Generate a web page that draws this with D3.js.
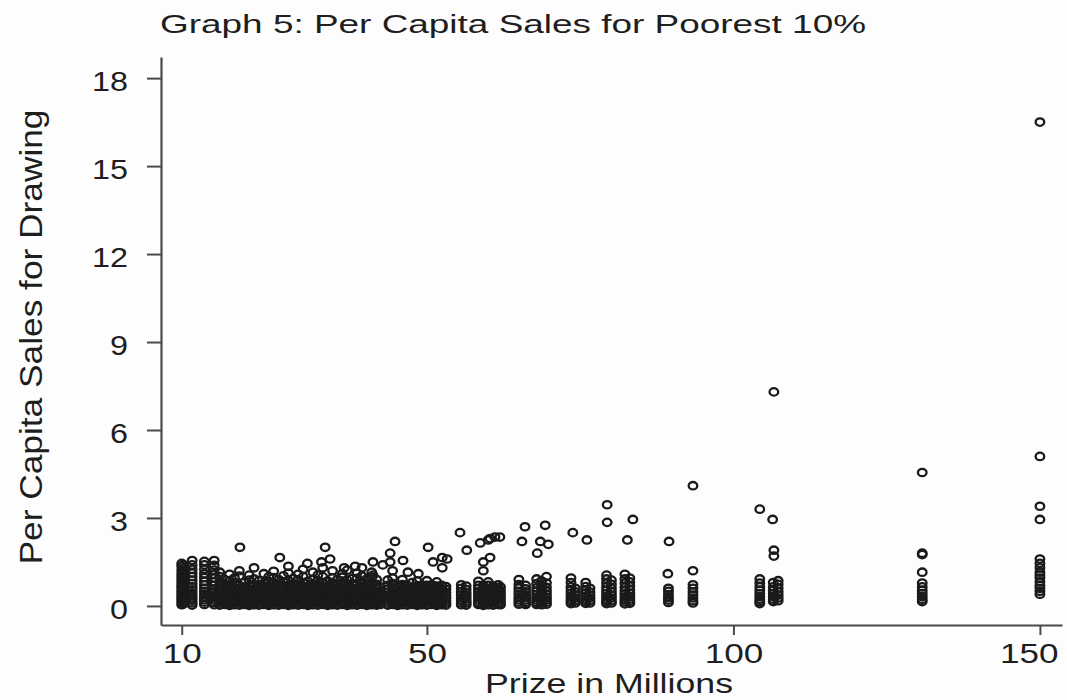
<!DOCTYPE html>
<html>
<head>
<meta charset="utf-8">
<script src="https://cdn.jsdelivr.net/npm/d3@7"></script>
<style>
  body { margin: 0; background: #fdfdfd; }
  text { font-family: "Liberation Sans", Arial, sans-serif; fill: #1e1e1e; }
</style>
</head>
<body>
<script>
// tick labels
var xTicks = [10, 50, 100, 150];
var yTicks = [0, 3, 6, 9, 12, 15, 18];

// prize levels (millions) that hold a stack of observations
var colPrize = [10.0, 10.3, 11.7, 13.7, 15.3,
  16.2, 17.0, 17.8, 18.6, 19.4, 20.2, 21.0, 21.8, 22.6, 23.4, 24.2, 25.0, 25.8, 26.6, 27.4,
  28.2, 29.0, 29.8, 30.6, 31.4, 32.2, 33.0, 33.8, 34.6, 35.4, 36.2, 37.0, 37.8, 38.6, 39.4,
  40.2, 41.0, 41.8, 42.4, 43.6, 44.4, 45.2, 46.0, 46.8, 47.6, 48.4, 49.2, 50.0, 50.8, 51.6,
  52.4, 53.1, 55.6, 56.4, 58.4, 59.2, 60.0, 60.8, 61.6, 62.0, 65.0, 66.1, 67.9, 68.7, 69.5,
  73.5, 74.2, 75.9, 76.6, 79.3, 80.1, 82.3, 83.1, 89.4, 93.4, 104.3, 106.5, 107.3, 130.8, 150.0];

// per capita sales of each stack (same order as colPrize)
var colSales = [
  [0.04,0.12,0.2,0.28,0.36,0.45,0.53,0.62,0.7,0.8,0.9,1.0,1.1,1.22,1.35,1.45],
  [0.07,0.16,0.24,0.33,0.41,0.5,0.58,0.67,0.76,0.85,0.95,1.05,1.16,1.28,1.4],
  [0.03,0.11,0.19,0.27,0.36,0.45,0.55,0.65,0.76,0.88,1.0,1.12,1.25,1.4,1.55],
  [0.05,0.13,0.21,0.3,0.4,0.5,0.6,0.72,0.84,0.97,1.1,1.25,1.4,1.52],
  [0.04,0.12,0.2,0.29,0.38,0.48,0.58,0.7,0.82,0.95,1.08,1.22,1.38,1.55],
  [0.03,0.1,0.18,0.26,0.35,0.44,0.55,0.68,0.82,1.0,1.15],
  [0.05,0.12,0.2,0.29,0.38,0.47,0.6,0.75,0.9],
  [0.02,0.09,0.16,0.24,0.33,0.42,0.52,0.66,0.86,1.08],
  [0.04,0.11,0.19,0.27,0.36,0.48,0.62,0.78,0.95],
  [0.03,0.1,0.17,0.25,0.34,0.43,0.56,0.7,1.02,1.2],
  [0.05,0.13,0.21,0.3,0.4,0.5,0.64,0.8],
  [0.02,0.08,0.15,0.23,0.31,0.41,0.53,0.69,0.88,1.05],
  [0.04,0.12,0.2,0.28,0.37,0.46,0.58,0.73,0.92,1.3],
  [0.03,0.1,0.18,0.26,0.35,0.45,0.57,0.71,0.86],
  [0.05,0.12,0.19,0.28,0.38,0.49,0.61,0.77,1.1],
  [0.02,0.09,0.17,0.25,0.33,0.42,0.54,0.67,0.83,1.0],
  [0.04,0.11,0.2,0.29,0.39,0.5,0.63,0.79,0.97,1.18],
  [0.03,0.1,0.17,0.26,0.36,0.47,0.6,0.74,0.9],
  [0.05,0.13,0.21,0.3,0.41,0.52,0.65,0.82,1.03],
  [0.02,0.09,0.16,0.24,0.33,0.43,0.55,0.7,0.87,1.12,1.35],
  [0.04,0.11,0.19,0.27,0.37,0.48,0.6,0.76,0.94],
  [0.03,0.1,0.18,0.26,0.35,0.45,0.57,0.72,0.89,1.08],
  [0.05,0.12,0.2,0.29,0.38,0.5,0.64,0.8,1.0,1.25],
  [0.02,0.08,0.15,0.23,0.32,0.42,0.54,0.68,0.84],
  [0.04,0.11,0.19,0.28,0.37,0.47,0.59,0.74,0.91,1.15],
  [0.03,0.1,0.17,0.25,0.34,0.44,0.56,0.7,0.86,1.05],
  [0.05,0.12,0.2,0.3,0.4,0.51,0.65,0.8,1.0,1.3],
  [0.02,0.09,0.16,0.24,0.33,0.43,0.55,0.69,0.85],
  [0.04,0.12,0.2,0.28,0.38,0.49,0.62,0.78,0.96,1.2],
  [0.03,0.1,0.18,0.27,0.36,0.46,0.58,0.73,0.9],
  [0.05,0.13,0.21,0.3,0.4,0.5,0.63,0.79,0.98,1.1],
  [0.02,0.09,0.17,0.25,0.34,0.44,0.56,0.71,0.88,1.22],
  [0.04,0.11,0.19,0.28,0.38,0.49,0.61,0.76,0.93],
  [0.03,0.1,0.18,0.26,0.36,0.47,0.6,0.75,0.94,1.12],
  [0.05,0.12,0.2,0.3,0.4,0.52,0.66,0.83,1.02,1.3],
  [0.02,0.09,0.16,0.25,0.35,0.46,0.59,0.74,0.92],
  [0.04,0.11,0.19,0.28,0.38,0.5,0.63,0.79,0.98,1.15],
  [0.03,0.1,0.18,0.27,0.37,0.48,0.6,0.74,0.9],
  [0.05,0.13,0.22,0.31,0.41,0.52,0.64],
  [0.03,0.1,0.18,0.27,0.36,0.46,0.57,0.7,0.88],
  [0.05,0.12,0.2,0.29,0.39,0.5,0.62,0.76,0.95,1.2],
  [0.02,0.09,0.17,0.26,0.35,0.45,0.56,0.68],
  [0.04,0.11,0.19,0.28,0.38,0.49,0.6,0.73,0.9],
  [0.03,0.1,0.18,0.27,0.37,0.47,0.58,0.7],
  [0.05,0.12,0.2,0.29,0.39,0.5,0.63,0.8],
  [0.02,0.09,0.17,0.26,0.36,0.46,0.57,0.69,0.85],
  [0.04,0.11,0.19,0.28,0.38,0.48,0.59,0.71],
  [0.03,0.1,0.18,0.27,0.36,0.46,0.57,0.7,0.86],
  [0.05,0.12,0.2,0.29,0.39,0.49,0.6,0.72],
  [0.02,0.09,0.17,0.26,0.35,0.45,0.56,0.68,0.82],
  [0.04,0.11,0.19,0.28,0.37,0.47,0.58,0.7],
  [0.03,0.1,0.18,0.27,0.36,0.46,0.57,0.66],
  [0.04,0.11,0.19,0.28,0.38,0.48,0.6,0.72],
  [0.03,0.1,0.17,0.26,0.35,0.45,0.56,0.68],
  [0.05,0.12,0.2,0.29,0.38,0.48,0.59,0.7,0.84],
  [0.02,0.09,0.17,0.26,0.36,0.46,0.57,0.69],
  [0.04,0.11,0.19,0.28,0.37,0.47,0.58,0.7,0.82],
  [0.03,0.1,0.18,0.27,0.36,0.46,0.57,0.68],
  [0.05,0.12,0.2,0.29,0.39,0.49,0.6,0.72],
  [0.04,0.13,0.22,0.32,0.42,0.53,0.65],
  [0.06,0.13,0.21,0.3,0.4,0.5,0.61,0.73,0.9],
  [0.05,0.12,0.2,0.29,0.38,0.48,0.58,0.7],
  [0.05,0.12,0.2,0.29,0.39,0.5,0.62,0.76,0.92],
  [0.04,0.11,0.19,0.28,0.37,0.47,0.58,0.7,0.85],
  [0.06,0.13,0.21,0.3,0.4,0.51,0.63,0.78,1.0],
  [0.08,0.15,0.23,0.32,0.42,0.53,0.65,0.8,0.95],
  [0.1,0.18,0.27,0.37,0.48,0.6],
  [0.09,0.16,0.24,0.33,0.43,0.54,0.66,0.8],
  [0.1,0.18,0.27,0.36,0.47,0.6],
  [0.08,0.15,0.23,0.32,0.42,0.53,0.65,0.78,0.92,1.05],
  [0.1,0.18,0.27,0.37,0.48,0.6,0.74,0.88],
  [0.07,0.14,0.22,0.31,0.41,0.52,0.64,0.78,0.92,1.08],
  [0.09,0.16,0.24,0.33,0.43,0.55,0.68,0.82,0.95],
  [0.12,0.2,0.29,0.39,0.5,0.6],
  [0.1,0.18,0.27,0.37,0.48,0.6,0.72],
  [0.08,0.15,0.23,0.32,0.42,0.53,0.65,0.78,0.92],
  [0.15,0.23,0.32,0.42,0.53,0.65,0.8],
  [0.18,0.27,0.37,0.48,0.6,0.74,0.86],
  [0.15,0.23,0.32,0.42,0.53,0.65,0.78],
  [0.4,0.5,0.6,0.7,0.82,0.95,1.05,1.15,1.3,1.45,1.6]
];

// isolated observations [prize, sales]
var scatterPoints = [
  [19.5,2.0],[26.0,1.65],[33.4,2.0],[34.2,1.6],[30.5,1.45],[32.8,1.5],[36.5,1.3],[38.3,1.35],
  [41.2,1.5],[41.2,1.05],[42.8,1.4],[44.0,1.8],[44.0,1.5],[44.8,2.2],[46.1,1.55],[46.9,1.15],
  [48.6,1.1],[50.2,2.0],[51.0,1.5],[52.5,1.65],[52.5,1.3],[53.3,1.6],[55.4,2.5],[56.5,1.9],
  [58.7,2.15],[60.0,2.25],[60.3,2.3],[61.1,2.35],[61.9,2.35],[60.3,1.65],[59.2,1.5],[59.2,1.2],
  [65.5,2.2],[66.0,2.7],[68.5,2.2],[69.3,2.75],[69.8,2.1],[68.0,1.8],[73.8,2.5],[76.1,2.25],
  [79.4,3.45],[79.4,2.85],[82.7,2.25],[83.6,2.95],[89.5,2.2],[89.3,1.1],[93.4,4.1],[93.4,1.2],
  [104.3,3.3],[106.4,2.95],[106.6,1.9],[106.6,1.7],[106.6,7.3],[130.8,4.55],[130.8,1.8],
  [130.8,1.75],[130.8,1.15],[150,16.5],[150,5.1],[150,3.4],[150,2.95]
];

var width = 1067, height = 700;
var sx = 1.27; // picture is stretched sideways

var points = [];
colPrize.forEach(function(p, i){
  colSales[i].forEach(function(s){ points.push({prize: p, sales: s}); });
});
scatterPoints.forEach(function(d){ points.push({prize: d[0], sales: d[1]}); });

var x = d3.scaleLinear().domain([6.62, 153.6]).range([161, 1062]);
var y = d3.scaleLinear().domain([-0.65, 18.72]).range([625, 57]);

var svg = d3.select("body").append("svg")
  .attr("width", width)
  .attr("height", height);

svg.append("rect").attr("width", width).attr("height", height).attr("fill", "#fdfdfd");

// title
svg.append("text")
  .attr("x", 513).attr("y", 33)
  .attr("text-anchor", "middle")
  .attr("font-size", 26)
  .attr("textLength", 706)
  .attr("lengthAdjust", "spacingAndGlyphs")
  .text("Graph 5: Per Capita Sales for Poorest 10%");

// y axis
var yAxis = svg.append("g")
  .attr("transform", "translate(161,0)")
  .call(d3.axisLeft(y).tickValues(yTicks).tickSize(14).tickSizeOuter(0).tickPadding(19));
yAxis.selectAll("text")
  .attr("font-size", 27)
  .attr("dy", "0.45em")
  .attr("textLength", function(d){ return String(d).length * 18; })
  .attr("lengthAdjust", "spacingAndGlyphs");

// x axis
var xAxis = svg.append("g")
  .attr("transform", "translate(0,625)")
  .call(d3.axisBottom(x).tickValues(xTicks).tickSize(10).tickSizeOuter(0));
xAxis.selectAll("text")
  .attr("font-size", 27)
  .attr("y", 38).attr("dy", null)
  .attr("textLength", function(d){ return String(d).length * 19.5; })
  .attr("lengthAdjust", "spacingAndGlyphs")
  .attr("dx", function(d){
    var half = String(d).length * 19.5 / 2;
    return Math.min(0, 1058 - (x(d) + half));
  });

svg.selectAll(".domain, .tick line")
  .attr("stroke", "#4a4a4a")
  .attr("stroke-width", 2);
svg.selectAll(".tick text").attr("fill", "#1e1e1e").attr("font-family", null);
svg.selectAll(".domain").attr("stroke-width", 2.2);

// axis titles
svg.append("text")
  .attr("x", 609).attr("y", 693)
  .attr("text-anchor", "middle")
  .attr("font-size", 28)
  .attr("textLength", 248)
  .attr("lengthAdjust", "spacingAndGlyphs")
  .text("Prize in Millions");

svg.append("text")
  .attr("transform", "translate(42,337) scale(" + sx + ",1) rotate(-90)")
  .attr("text-anchor", "middle")
  .attr("font-size", 25)
  .attr("textLength", 455)
  .attr("lengthAdjust", "spacingAndGlyphs")
  .text("Per Capita Sales for Drawing");

// markers: hollow circles, squashed like the picture
svg.append("g")
  .selectAll("ellipse")
  .data(points).enter()
  .append("ellipse")
  .attr("cx", function(d){ return x(d.prize); })
  .attr("cy", function(d){ return y(d.sales); })
  .attr("rx", 4.3)
  .attr("ry", 3.7)
  .attr("fill", "none")
  .attr("stroke", "#1a1a1a")
  .attr("stroke-width", 2.3);
</script>
</body>
</html>
